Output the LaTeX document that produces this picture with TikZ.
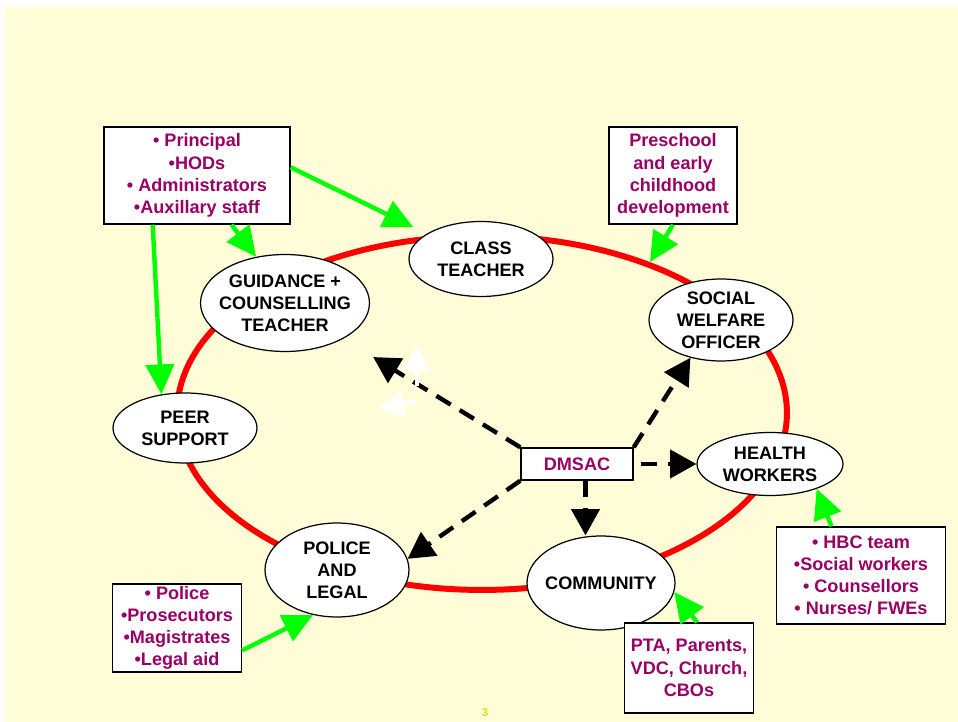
\documentclass[tikz,border=0pt]{standalone}
\usepackage{fontspec}
\setmainfont{Liberation Sans}
\usepackage{tikz}
\usetikzlibrary{shapes.geometric, arrows.meta, positioning}
\usepackage{xcolor}

\definecolor{bgyellow}{HTML}{FFFDD8}
\definecolor{boxtext}{HTML}{990066}
\definecolor{ringred}{HTML}{FF0000}
\definecolor{arrgreen}{HTML}{00FF00}
\definecolor{pagenum}{HTML}{E0E000}

\begin{document}
\begin{tikzpicture}[x=0.02cm, y=-0.02cm,
    font=\fontsize{10.3}{12.6}\selectfont\bfseries,
    bubble/.style={ellipse, draw=black, line width=0.7pt, fill=white, align=center, inner xsep=-6pt, inner ysep=-2pt},
    infobox/.style={rectangle, draw=black, line width=0.8pt, fill=white, text=boxtext, align=center, inner sep=0pt},
    feed/.style={draw=arrgreen, line width=2.5pt, -{Triangle[length=17pt,width=16pt]}},
    link/.style={draw=black, line width=2.5pt, dash pattern=on 9.5pt off 6pt, -{Triangle[length=15pt,width=16pt]}},
    ghost/.style={draw=white, line width=2.5pt, -{Triangle[length=15pt,width=15pt]}}]
        % Page and background
        \useasboundingbox (0,0) rectangle (958,722);
        \fill[bgyellow] (5,7) rectangle (958,722);

        % Draw red ring
        \draw[ringred, line width=3.4pt] (482,413) ellipse [x radius=6.1cm, y radius=3.54cm];

        % Draw roles on the ring
        \node[bubble, minimum width=2.88cm, minimum height=1.5cm] (class) at (481,259) {CLASS\\TEACHER};
        \node[bubble, minimum width=3.38cm, minimum height=1.94cm] (guidance) at (285,303) {GUIDANCE +\\COUNSELLING\\TEACHER};
        \node[bubble, minimum width=2.88cm, minimum height=1.64cm] (social) at (721,320) {SOCIAL\\WELFARE\\OFFICER};
        \node[bubble, minimum width=2.92cm, minimum height=1.26cm] (health) at (770,464) {HEALTH\\WORKERS};
        \node[bubble, minimum width=2.88cm, minimum height=1.4cm] (peer) at (185,428) {PEER\\SUPPORT};
        \node[bubble, minimum width=2.88cm, minimum height=1.88cm] (police) at (337,570) {POLICE\\AND\\LEGAL};
        \node[bubble, minimum width=2.96cm, minimum height=1.88cm] (community) at (601,583) {COMMUNITY};

        % Draw centre box
        \node[infobox, minimum width=2.24cm, minimum height=0.64cm] (dmsac) at (577,464) {DMSAC};

        % Draw outer boxes
        \node[infobox, minimum width=3.72cm, minimum height=1.94cm] (staff) at (197,175.5) {• Principal\\•HODs\\• Administrators\\•Auxillary staff};
        \node[infobox, minimum width=2.56cm, minimum height=1.94cm] (early) at (673,175.5) {Preschool\\and early\\childhood\\development};
        \node[infobox, minimum width=2.58cm, minimum height=1.76cm] (legalbox) at (177,628) {• Police\\•Prosecutors\\•Magistrates\\•Legal aid};
        \node[infobox, minimum width=3.38cm, minimum height=1.94cm] (careteam) at (861,575.5) {• HBC team\\•Social workers\\• Counsellors\\• Nurses/ FWEs};
        \node[infobox, minimum width=2.58cm, minimum height=1.8cm] (locals) at (689,668) {PTA, Parents,\\VDC, Church,\\CBOs};
        \coordinate (earlyend) at (650,262);

        % Green arrows into the ring
        \draw[feed, shorten >=0.3cm] (staff.5) -- (class.155);
        \draw[feed] (staff.-55) -- (guidance.122);
        \draw[feed] (staff.-132) -- (peer.125);
        \draw[feed] (early.south) -- (earlyend);
        \draw[feed] (careteam.121) -- (health.-28);
        \draw[feed] (locals.80) -- (community.-7);
        \draw[feed] (legalbox.-19) -- (police.-118);

        % Dashed arrows out of DMSAC
        \draw[link, shorten >=0.7cm] (dmsac.north west) -- (guidance);
        \draw[link] (dmsac.north east) -- (social.-129);
        \draw[link, shorten <=4pt] (dmsac.east) -- (health.west);
        \draw[link] (dmsac.-63) -- (dmsac.-63 |- community.north);
        \draw[link] (dmsac.south west) -- (police.9);

        % Faint white arrows
        \draw[ghost] (417,386) -- (417,345);
        \draw[ghost] (417,401) -- (378,408);

        % Page number
        \node[text=pagenum, font=\fontsize{6.5}{7}\selectfont\bfseries] (page) at (485,713) {3};
\end{tikzpicture}
\end{document}
